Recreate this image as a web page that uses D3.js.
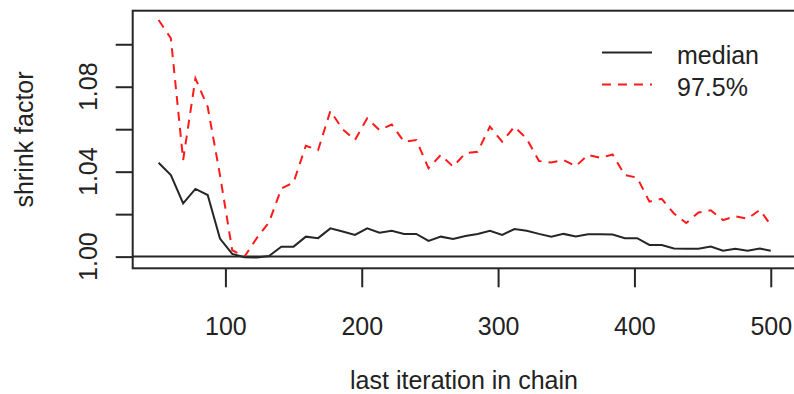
<!DOCTYPE html>
<html>
<head>
<meta charset="utf-8">
<script src="https://cdn.jsdelivr.net/npm/d3@7"></script>
<style>
  html, body { margin: 0; padding: 0; background: #fff; }
  svg { display: block; }
  text { font-family: "Liberation Sans", Arial, sans-serif; fill: #222; }
</style>
</head>
<body>
<svg id="chart" width="794" height="394"></svg>
<script>
// Gelman-Rubin shrink factor over the chain (last iteration of each bin)
const iterations = [51, 60, 69, 78, 87, 96, 105, 114, 123, 132, 141, 150, 159, 168, 177,
  186, 195, 204, 213, 222, 231, 240, 249, 258, 267, 276, 285, 294, 303, 312, 321, 330,
  339, 348, 357, 366, 375, 384, 393, 402, 411, 420, 429, 438, 447, 456, 465, 474, 483,
  492, 500];

const medianValues = [1.0442, 1.0384, 1.0251, 1.0319, 1.0290, 1.0085, 1.0013, 0.9997,
  0.9996, 1.0003, 1.0047, 1.0047, 1.0094, 1.0087, 1.0133, 1.0118, 1.0102, 1.0133, 1.0113,
  1.0122, 1.0107, 1.0107, 1.0074, 1.0094, 1.0083, 1.0097, 1.0107, 1.0122, 1.0102, 1.0130,
  1.0122, 1.0107, 1.0094, 1.0107, 1.0095, 1.0105, 1.0105, 1.0104, 1.0087, 1.0087, 1.0055,
  1.0055, 1.0038, 1.0037, 1.0037, 1.0047, 1.0028, 1.0037, 1.0028, 1.0038, 1.0028];

const upperValues = [1.1114, 1.1028, 1.0455, 1.0839, 1.0705, 1.0385, 1.0030, 1.0000,
  1.0087, 1.0162, 1.0320, 1.0350, 1.0522, 1.0502, 1.0686, 1.0600, 1.0549, 1.0651, 1.0596,
  1.0622, 1.0541, 1.0549, 1.0416, 1.0479, 1.0424, 1.0487, 1.0494, 1.0612, 1.0541, 1.0612,
  1.0555, 1.0450, 1.0443, 1.0455, 1.0426, 1.0479, 1.0465, 1.0481, 1.0384, 1.0372, 1.0259,
  1.0272, 1.0203, 1.0158, 1.0208, 1.0218, 1.0172, 1.0190, 1.0179, 1.0220, 1.0149];

const xTicks = [100, 200, 300, 400, 500];
const yTicks = [1.00, 1.02, 1.04, 1.06, 1.08, 1.10];
const yLabelValues = [1.00, 1.04, 1.08];
const yLabelText = ["1.00", "1.04", "1.08"];
const seriesNames = ["median", "97.5%"];

const svg = d3.select("#chart");
const plot = { left: 132.7, right: 795.3, top: 10.7, bottom: 268.3 };

const x = d3.scaleLinear().domain([32, 518]).range([plot.left, plot.right]);
const y = d3.scaleLinear().domain([0.9945, 1.1158]).range([plot.bottom, plot.top]);

const ink = "#262626";

// axes (ticks only; labels drawn separately)
const xAxis = svg.append("g")
  .attr("transform", `translate(0,${plot.bottom})`)
  .call(d3.axisBottom(x).tickValues(xTicks).tickSize(19).tickFormat(d3.format("d")));
xAxis.select(".domain").remove();
xAxis.selectAll("line").attr("stroke", ink).attr("stroke-width", 2);
xAxis.selectAll("text")
  .attr("y", 0).attr("dy", null)
  .attr("transform", "translate(0,67)")
  .style("font-size", "25px").attr("fill", "#222");

const yAxis = svg.append("g")
  .attr("transform", `translate(${plot.left},0)`)
  .call(d3.axisLeft(y).tickValues(yTicks).tickSize(17).tickFormat(""));
yAxis.select(".domain").remove();
yAxis.selectAll("line").attr("stroke", ink).attr("stroke-width", 2);

svg.append("g").selectAll("text")
  .data(yLabelValues)
  .join("text")
  .attr("transform", d => `translate(97,${y(d)}) rotate(-90)`)
  .attr("text-anchor", "middle")
  .style("font-size", "25px")
  .text((d, i) => yLabelText[i]);

// reference line at 1
svg.append("line")
  .attr("x1", plot.left).attr("x2", plot.right)
  .attr("y1", y(1)).attr("y2", y(1))
  .attr("stroke", ink).attr("stroke-width", 2);

// series
const line = d3.line().x((d, i) => x(iterations[i])).y(d => y(d));

svg.append("path")
  .datum(upperValues)
  .attr("d", line)
  .attr("fill", "none")
  .attr("stroke", "#ff1a1a")
  .attr("stroke-width", 2)
  .attr("stroke-dasharray", "9,7");

svg.append("path")
  .datum(medianValues)
  .attr("d", line)
  .attr("fill", "none")
  .attr("stroke", ink)
  .attr("stroke-width", 2);

// plot frame
svg.append("rect")
  .attr("x", plot.left).attr("y", plot.top)
  .attr("width", plot.right - plot.left).attr("height", plot.bottom - plot.top)
  .attr("fill", "none").attr("stroke", ink).attr("stroke-width", 2);

// axis titles
svg.append("text")
  .attr("x", (plot.left + plot.right) / 2).attr("y", 389)
  .attr("text-anchor", "middle")
  .style("font-size", "25px")
  .text("last iteration in chain");

svg.append("text")
  .attr("transform", `translate(33,${(plot.top + plot.bottom) / 2}) rotate(-90)`)
  .attr("text-anchor", "middle")
  .style("font-size", "25px")
  .text("shrink factor");

// legend
const legend = svg.append("g");
const rows = [
  { name: seriesNames[0], color: ink, dash: null, ly: 52.5, ty: 64 },
  { name: seriesNames[1], color: "#ff1a1a", dash: "9,7", ly: 84.5, ty: 96 }
];
rows.forEach(r => {
  legend.append("line")
    .attr("x1", 602).attr("x2", 652)
    .attr("y1", r.ly).attr("y2", r.ly)
    .attr("stroke", r.color).attr("stroke-width", 2)
    .attr("stroke-dasharray", r.dash);
  legend.append("text")
    .attr("x", 677).attr("y", r.ty)
    .style("font-size", "25px")
    .text(r.name);
});
</script>
</body>
</html>
